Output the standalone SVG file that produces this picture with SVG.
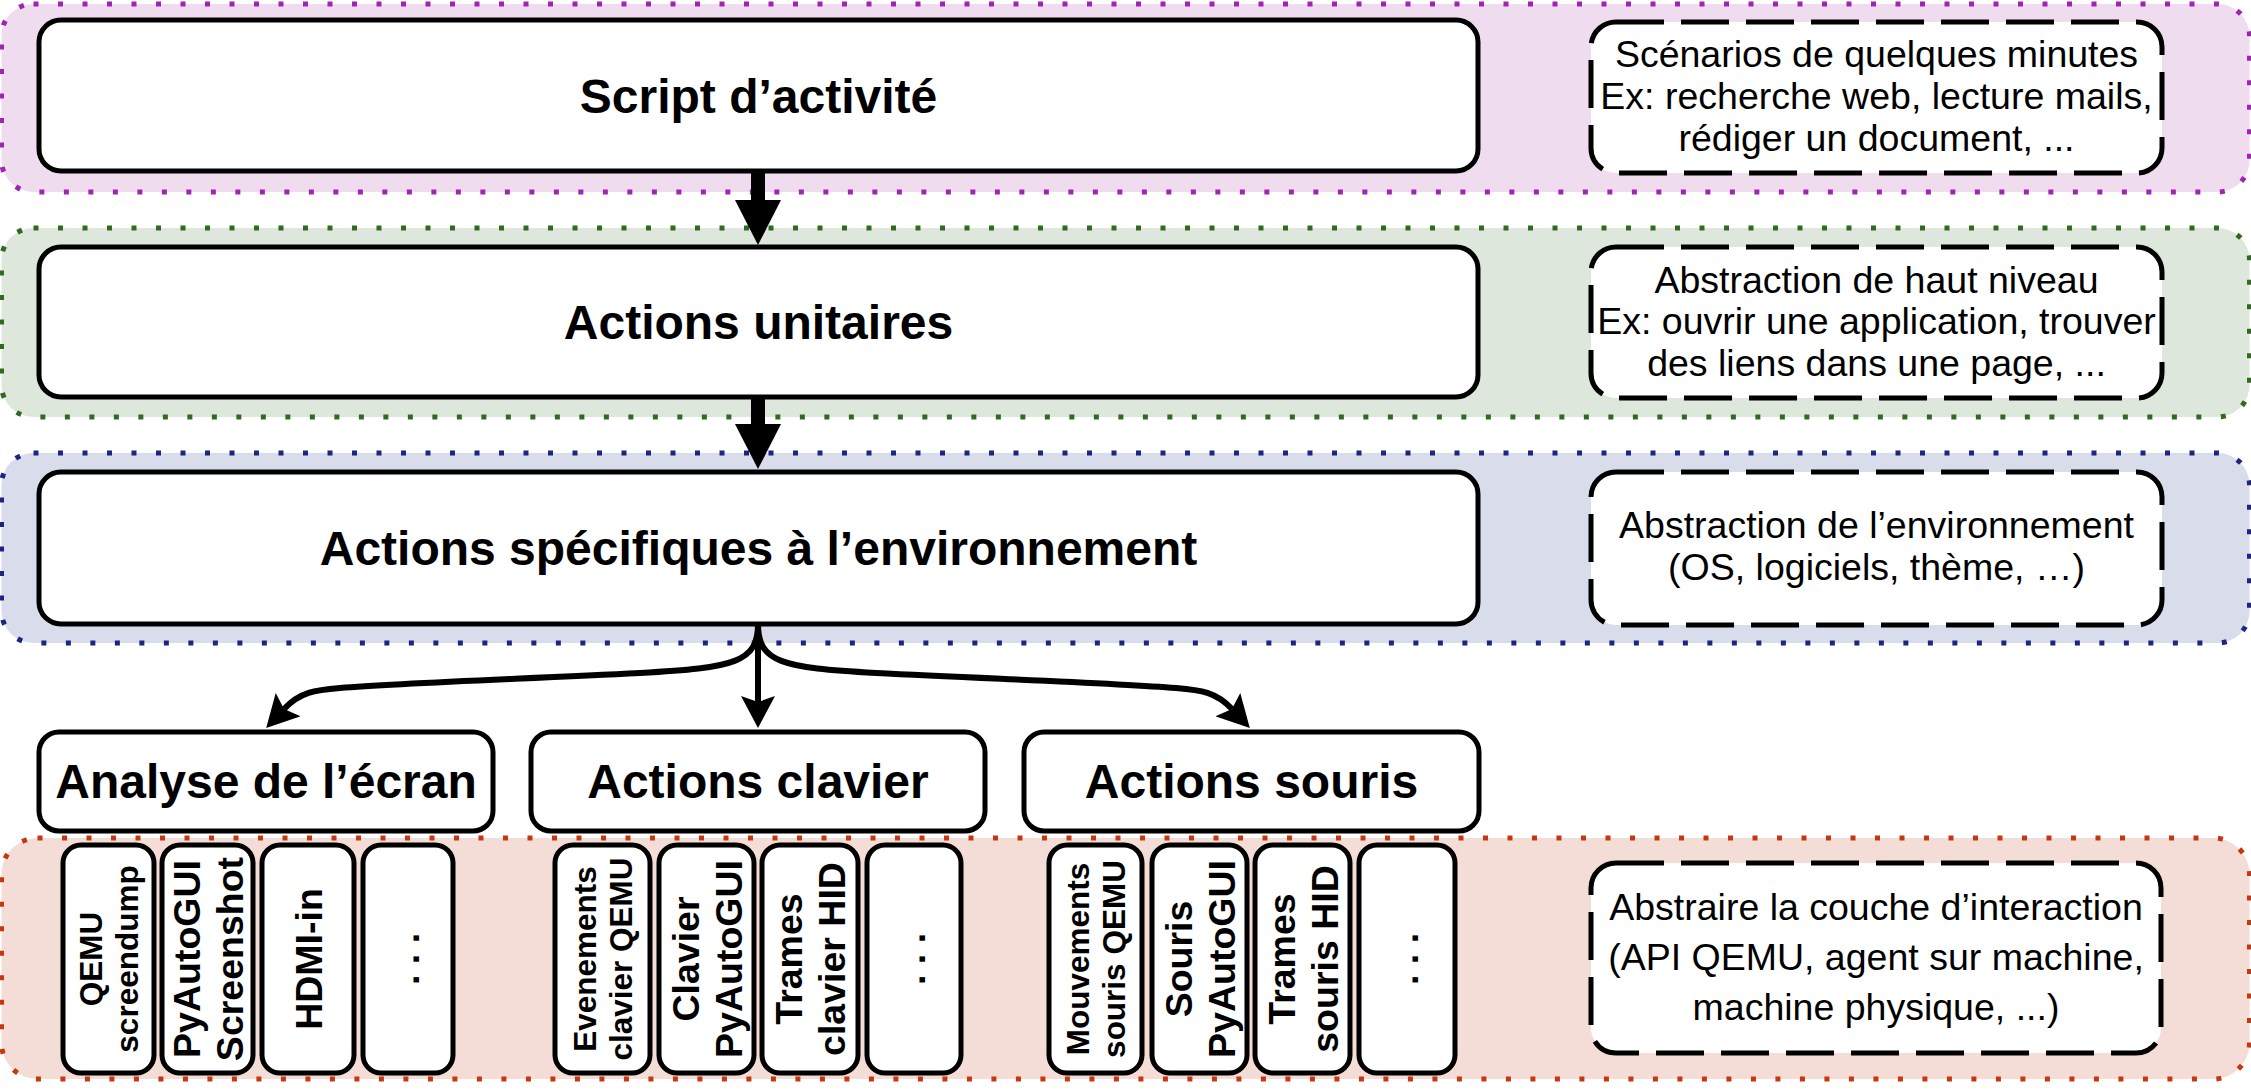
<svg xmlns="http://www.w3.org/2000/svg" width="2251" height="1090" viewBox="0 0 2251 1090">
<defs>
<style>
.band{stroke-width:5;stroke-dasharray:5 19.5;}
.box{fill:#fff;stroke:#000;stroke-width:5;}
.dbox{fill:#fff;stroke:#000;stroke-width:5;stroke-dasharray:48 17;}
.title{font-family:"Liberation Sans",Arial,sans-serif;font-weight:bold;font-size:48px;text-anchor:middle;fill:#000;}
.note{font-family:"Liberation Sans",Arial,sans-serif;font-size:37.5px;text-anchor:middle;fill:#000;}
.vt{font-family:"Liberation Sans",Arial,sans-serif;font-weight:bold;font-size:37.5px;text-anchor:middle;fill:#000;}
.vs{font-family:"Liberation Sans",Arial,sans-serif;font-weight:bold;font-size:31.5px;text-anchor:middle;fill:#000;}
.conn{fill:none;stroke:#000;stroke-width:6;}
.thick{fill:none;stroke:#000;stroke-width:14;}
</style>
<marker id="arr" markerUnits="userSpaceOnUse" viewBox="0 0 32 34" refX="6" refY="17" markerWidth="32" markerHeight="34" orient="auto"><path d="M0,0 L32,17 L0,34 L6,17 Z" fill="#000"/></marker>
<marker id="big" markerUnits="userSpaceOnUse" viewBox="0 0 45 46" refX="1" refY="23" markerWidth="45" markerHeight="46" orient="auto"><path d="M0,0 L45,23 L0,46 Z" fill="#000"/></marker>
</defs>

<g id="bands">
<rect id="band-script" class="band" x="1.5" y="4" width="2248" height="188" rx="32" fill="#efdcef" stroke="#a024b4"/>
<rect id="band-unitaires" class="band" x="1.5" y="228" width="2248" height="189" rx="32" fill="#dde7dc" stroke="#2e6b1e"/>
<rect id="band-env" class="band" x="1.5" y="453" width="2248" height="190" rx="32" fill="#d9dcea" stroke="#1c2580"/>
<rect id="band-interaction" class="band" x="1.5" y="838" width="2248" height="241" rx="36" fill="#f5ddd7" stroke="#c4380f"/>
</g>

<g id="connectors">
<line class="thick" x1="758" y1="171" x2="758" y2="201" marker-end="url(#big)"/>
<line class="thick" x1="758" y1="397" x2="758" y2="425" marker-end="url(#big)"/>
<path class="conn" d="M758,624 L758,702" marker-end="url(#arr)"/>
<path class="conn" d="M758,624 C758,662 735,668 640,673 C520,679 400,683 340,688 C315,690 300,692 284,709" marker-end="url(#arr)"/>
<path class="conn" d="M758,624 C758,662 781,668 876,673 C996,679 1116,683 1176,688 C1201,690 1216,692 1232,709" marker-end="url(#arr)"/>
</g>

<g id="node-script">
<rect class="box" x="39" y="20" width="1439" height="151" rx="22"/>
<text class="title" x="758.5" y="113">Script d’activité</text>
</g>
<g id="node-script-note">
<rect class="dbox" x="1591" y="22" width="571" height="151" rx="25"/>
<text class="note" x="1876.5" y="67">Scénarios de quelques minutes</text>
<text class="note" x="1876.5" y="109">Ex: recherche web, lecture mails,</text>
<text class="note" x="1876.5" y="151">rédiger un document, ...</text>
</g>

<g id="node-unitaires">
<rect class="box" x="39" y="247" width="1439" height="150" rx="22"/>
<text class="title" x="758.5" y="339">Actions unitaires</text>
</g>
<g id="node-unitaires-note">
<rect class="dbox" x="1591" y="247" width="571" height="151" rx="25"/>
<text class="note" x="1876.5" y="293">Abstraction de haut niveau</text>
<text class="note" x="1876.5" y="334">Ex: ouvrir une application, trouver</text>
<text class="note" x="1876.5" y="376">des liens dans une page, ...</text>
</g>

<g id="node-env">
<rect class="box" x="39" y="472" width="1439" height="152" rx="22"/>
<text class="title" x="758.5" y="565">Actions spécifiques à l’environnement</text>
</g>
<g id="node-env-note">
<rect class="dbox" x="1591" y="472" width="571" height="153" rx="25"/>
<text class="note" x="1876.5" y="538">Abstraction de l’environnement</text>
<text class="note" x="1876.5" y="580">(OS, logiciels, thème, …)</text>
</g>

<g id="node-ecran">
<rect class="box" x="39" y="732" width="454" height="99" rx="20"/>
<text class="title" x="266" y="798">Analyse de l’écran</text>
</g>
<g id="node-clavier">
<rect class="box" x="531" y="732" width="454" height="99" rx="20"/>
<text class="title" x="758" y="798">Actions clavier</text>
</g>
<g id="node-souris">
<rect class="box" x="1024" y="732" width="455" height="99" rx="20"/>
<text class="title" x="1251.5" y="798">Actions souris</text>
</g>

<g id="node-qemu-screendump">
<rect class="box" x="63" y="845" width="91" height="228" rx="18"/>
<g transform="translate(108.5,959) rotate(-90)"><text class="vs" x="0" y="-6.75">QEMU</text><text class="vs" x="0" y="29.25">screendump</text></g>
</g>
<g id="node-pyautogui-screenshot">
<rect class="box" x="162" y="845" width="91" height="228" rx="18"/>
<g transform="translate(207.5,959) rotate(-90)"><text class="vt" x="0" y="-8">PyAutoGUI</text><text class="vt" x="0" y="35">Screenshot</text></g>
</g>
<g id="node-hdmi">
<rect class="box" x="262" y="845" width="92" height="228" rx="18"/>
<g transform="translate(308,959) rotate(-90)"><text class="vt" x="0" y="13.5">HDMI-in</text></g>
</g>
<g id="node-ecran-more">
<rect class="box" x="363" y="845" width="90" height="228" rx="18"/>
<g transform="translate(408,959) rotate(-90)"><text class="vt" x="0" y="11">. . .</text></g>
</g>

<g id="node-evenements-qemu">
<rect class="box" x="555" y="845" width="95" height="228" rx="18"/>
<g transform="translate(602.5,959) rotate(-90)"><text class="vs" x="0" y="-6.75">Evenements</text><text class="vs" x="0" y="29.25">clavier QEMU</text></g>
</g>
<g id="node-clavier-pyautogui">
<rect class="box" x="659" y="845" width="95" height="228" rx="18"/>
<g transform="translate(706.5,959) rotate(-90)"><text class="vt" x="0" y="-8">Clavier</text><text class="vt" x="0" y="35">PyAutoGUI</text></g>
</g>
<g id="node-trames-clavier">
<rect class="box" x="762" y="845" width="96" height="228" rx="18"/>
<g transform="translate(810,959) rotate(-90)"><text class="vt" x="0" y="-8">Trames</text><text class="vt" x="0" y="35">clavier HID</text></g>
</g>
<g id="node-clavier-more">
<rect class="box" x="867" y="845" width="94" height="228" rx="18"/>
<g transform="translate(914,959) rotate(-90)"><text class="vt" x="0" y="11">. . .</text></g>
</g>

<g id="node-mouvements-qemu">
<rect class="box" x="1049" y="845" width="93" height="228" rx="18"/>
<g transform="translate(1095.5,959) rotate(-90)"><text class="vs" x="0" y="-6.75">Mouvements</text><text class="vs" x="0" y="29.25">souris QEMU</text></g>
</g>
<g id="node-souris-pyautogui">
<rect class="box" x="1152" y="845" width="95" height="228" rx="18"/>
<g transform="translate(1199.5,959) rotate(-90)"><text class="vt" x="0" y="-8">Souris</text><text class="vt" x="0" y="35">PyAutoGUI</text></g>
</g>
<g id="node-trames-souris">
<rect class="box" x="1255" y="845" width="95" height="228" rx="18"/>
<g transform="translate(1302.5,959) rotate(-90)"><text class="vt" x="0" y="-8">Trames</text><text class="vt" x="0" y="35">souris HID</text></g>
</g>
<g id="node-souris-more">
<rect class="box" x="1359" y="845" width="96" height="228" rx="18"/>
<g transform="translate(1407,959) rotate(-90)"><text class="vt" x="0" y="11">. . .</text></g>
</g>

<g id="node-interaction-note">
<rect class="dbox" x="1591" y="863" width="570" height="190" rx="25"/>
<text class="note" x="1876" y="920">Abstraire la couche d’interaction</text>
<text class="note" x="1876" y="970">(API QEMU, agent sur machine,</text>
<text class="note" x="1876" y="1020">machine physique, ...)</text>
</g>
</svg>
